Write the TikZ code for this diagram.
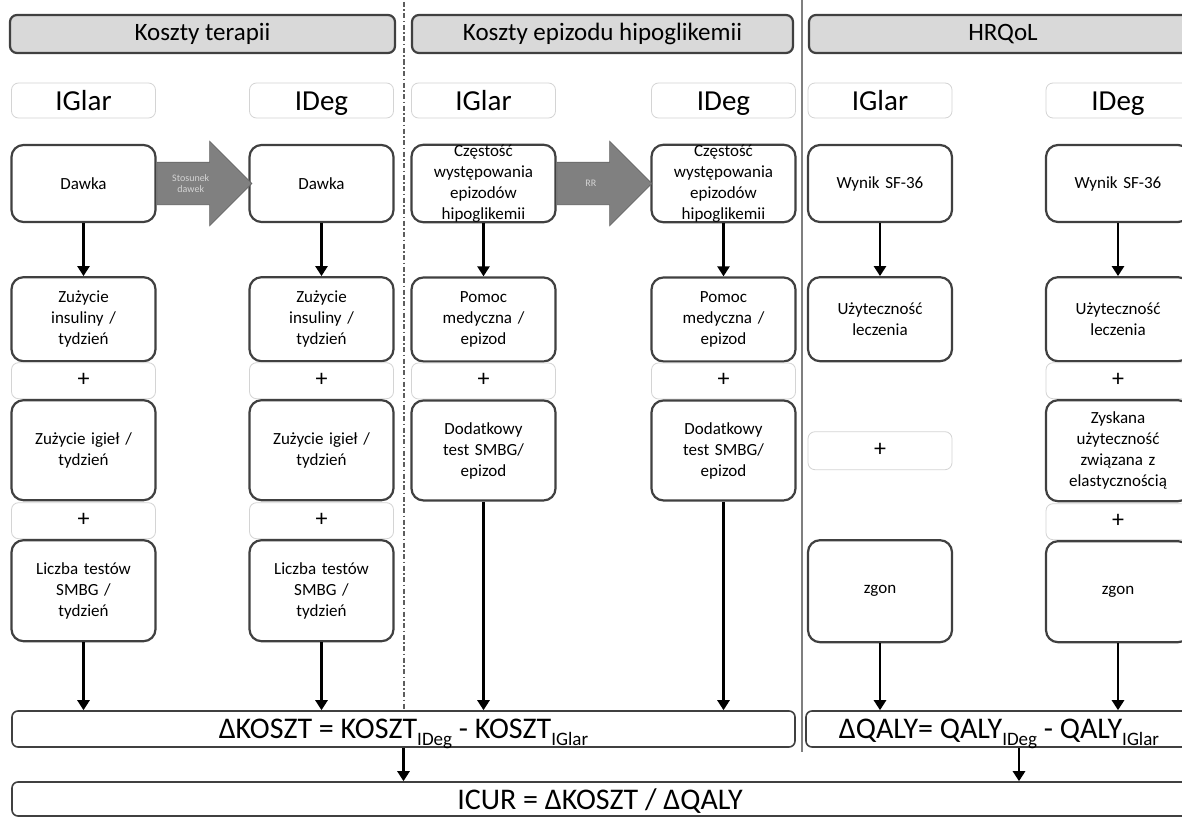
\documentclass[tikz,border=0pt]{standalone}
\usepackage{fontspec}
\setmainfont{Carlito}
\usepackage{tikz}
\usetikzlibrary{shapes.arrows, positioning, arrows.meta}
\definecolor{ramka}{HTML}{404040}
\definecolor{jasna}{HTML}{D4D4D4}
\definecolor{naglowek}{HTML}{D9D9D9}
\definecolor{strzalka}{HTML}{808080}
\definecolor{linia}{HTML}{7F7F7F}
\newcommand{\lowidx}[1]{\raisebox{-7pt}{\fontsize{19}{19}\selectfont #1}}
\tikzset{
  header/.style={rectangle, rounded corners=7pt, draw=ramka, line width=2.2pt, fill=naglowek, minimum height=38pt, inner sep=0pt, font=\fontsize{25}{29}\selectfont},
  drugbox/.style={rectangle, rounded corners=7pt, draw=jasna, line width=0.8pt, fill=white, minimum width=144pt, minimum height=35pt, inner sep=0pt, text height=19pt, text depth=0pt, font=\fontsize{29}{34}\selectfont},
  plusbox/.style={drugbox, minimum height=36pt, text height=12pt, font=\fontsize{24}{24}\selectfont},
  process/.style={rectangle, rounded corners=12pt, draw=ramka, line width=2.2pt, fill=white, minimum width=144pt, text width=136pt, inner sep=0pt, align=center, font=\fontsize{17}{21}\selectfont},
  result/.style={rectangle, rounded corners=6pt, draw=ramka, line width=1.6pt, fill=white, minimum height=36pt, inner sep=0pt, text depth=0pt, font=\fontsize{30}{34}\selectfont},
  bigarrow/.style={single arrow, draw=ramka!80, line width=0.6pt, fill=strzalka, minimum height=95pt, inner xsep=0pt, inner ysep=21pt, single arrow head extend=21pt},
  arrowtext/.style={text width=42pt, align=center, inner sep=0pt, text=jasna, font=\fontsize{10}{11}\selectfont},
  arrow/.style={line width=2.6pt, -{Triangle[length=10pt, width=12pt]}}
}

\begin{document}
\begin{tikzpicture}[x=1pt, y=-1pt]
    \fill[white] (0,0) rectangle (1182,816);
    \clip (0,0) rectangle (1182,816);

    % Separatory
    \draw [ramka!85, line width=1.3pt, dash pattern=on 5pt off 2.5pt on 1.5pt off 2.5pt] (404,2) -- (404,711);
    \draw [linia, line width=2pt] (802,0) -- (802,752);

    % Naglowki
    \node (hdr1) [header, minimum width=385pt] at (202.5,34) {Koszty terapii};
    \node (hdr2) [header, minimum width=381pt] at (602.5,34) {Koszty epizodu hipoglikemii};
    \node (hdr3) [header, minimum width=388pt] at (1003,34) {HRQoL};

    \node (lab1) [drugbox] at (83.5,100.5) {IGlar};
    \node (lab2) [drugbox] at (321.5,100.5) {IDeg};
    \node (lab3) [drugbox] at (483.5,100.5) {IGlar};
    \node (lab4) [drugbox] at (723.5,100.5) {IDeg};
    \node (lab5) [drugbox] at (880,100.5) {IGlar};
    \node (lab6) [drugbox] at (1118,100.5) {IDeg};

    % Koszty terapii
    \node (dose1) [process, minimum height=77pt] at (83.5,183.5) {Dawka};
    \node (ins1) [process, minimum height=84pt, below=53pt of dose1] {Zużycie\\insuliny /\\tydzień};
    \node (plus1a) [plusbox, below=0pt of ins1] {+};
    \node (ndl1) [process, minimum height=100pt, below=0pt of plus1a] {Zużycie igieł /\\tydzień};
    \node (plus1b) [plusbox, below=1pt of ndl1] {+};
    \node (tst1) [process, minimum height=101pt, below=0pt of plus1b] {Liczba testów\\SMBG /\\tydzień};

    \node (dose2) [process, minimum height=77pt] at (321.5,183.5) {Dawka};
    \node (ins2) [process, minimum height=84pt, below=53pt of dose2] {Zużycie\\insuliny /\\tydzień};
    \node (plus2a) [plusbox, below=0pt of ins2] {+};
    \node (ndl2) [process, minimum height=100pt, below=0pt of plus2a] {Zużycie igieł /\\tydzień};
    \node (plus2b) [plusbox, below=1pt of ndl2] {+};
    \node (tst2) [process, minimum height=101pt, below=0pt of plus2b] {Liczba testów\\SMBG /\\tydzień};

    \node (ratio) [bigarrow, right=0pt of dose1] {};
    \node (ratiotxt) [arrowtext] at ([xshift=-3pt]ratio.center) {Stosunek\\dawek};

    % Koszty epizodu hipoglikemii
    \node (freq3) [process, minimum height=77pt] at (483.5,183.5) {Częstość\\występowania\\epizodów\\hipoglikemii};
    \node (help3) [process, minimum height=84pt, below=53pt of freq3] {Pomoc\\medyczna /\\epizod};
    \node (plus3) [plusbox, below=0pt of help3] {+};
    \node (smbg3) [process, minimum height=100pt, below=0pt of plus3] {Dodatkowy\\test SMBG/\\epizod};

    \node (freq4) [process, minimum height=77pt] at (723.5,183.5) {Częstość\\występowania\\epizodów\\hipoglikemii};
    \node (help4) [process, minimum height=84pt, below=53pt of freq4] {Pomoc\\medyczna /\\epizod};
    \node (plus4) [plusbox, below=0pt of help4] {+};
    \node (smbg4) [process, minimum height=100pt, below=0pt of plus4] {Dodatkowy\\test SMBG/\\epizod};

    \node (rr) [bigarrow, right=0pt of freq3] {};
    \node (rrtxt) [arrowtext] at ([xshift=-3pt]rr.center) {RR};

    % HRQoL
    \node (sf5) [process, minimum height=77pt] at (880,183.5) {Wynik SF-36};
    \node (util5) [process, minimum height=84pt, below=53pt of sf5] {Użyteczność\\leczenia};
    \node (plus5) [plusbox, minimum height=38pt, below=69pt of util5] {+};
    \node (death5) [process, minimum height=102pt, below=69pt of plus5] {zgon};

    \node (sf6) [process, minimum height=77pt] at (1118,183.5) {Wynik SF-36};
    \node (util6) [process, minimum height=84pt, below=53pt of sf6] {Użyteczność\\leczenia};
    \node (plus6a) [plusbox, below=0pt of util6] {+};
    \node (gain6) [process, minimum height=101pt, below=0pt of plus6a] {Zyskana\\użyteczność\\związana z\\elastycznością};
    \node (plus6b) [plusbox, below=1pt of gain6] {+};
    \node (death6) [process, minimum height=101pt, below=0pt of plus6b] {zgon};

    % Wyniki
    \node (koszt) [result, minimum width=783pt] at (403.5,729) {ΔKOSZT = KOSZT\lowidx{IDeg} - KOSZT\lowidx{IGlar}};
    \node (qaly) [result, minimum width=386pt] at (999,729) {ΔQALY= QALY\lowidx{IDeg} - QALY\lowidx{IGlar}};
    \node (icur) [result, minimum width=1176pt, minimum height=34pt] at (600,799) {ICUR = ΔKOSZT / ΔQALY};

    % Strzalki
    \draw [arrow] (dose1) -- (ins1);
    \draw [arrow] (dose2) -- (ins2);
    \draw [arrow] (freq3) -- (help3);
    \draw [arrow] (freq4) -- (help4);
    \draw [arrow] (sf5) -- (util5);
    \draw [arrow] (sf6) -- (util6);

    \draw [arrow] (tst1.south) -- (tst1.south |- koszt.north);
    \draw [arrow] (tst2.south) -- (tst2.south |- koszt.north);
    \draw [arrow] (smbg3.south) -- (smbg3.south |- koszt.north);
    \draw [arrow] (smbg4.south) -- (smbg4.south |- koszt.north);
    \draw [arrow] (death5.south) -- (death5.south |- qaly.north);
    \draw [arrow] (death6.south) -- (death6.south |- qaly.north);

    \draw [arrow] (koszt.south) -- (koszt.south |- icur.north);
    \draw [arrow] ([xshift=20pt]qaly.south) -- ([xshift=20pt]qaly.south |- icur.north);

\end{tikzpicture}
\end{document}
